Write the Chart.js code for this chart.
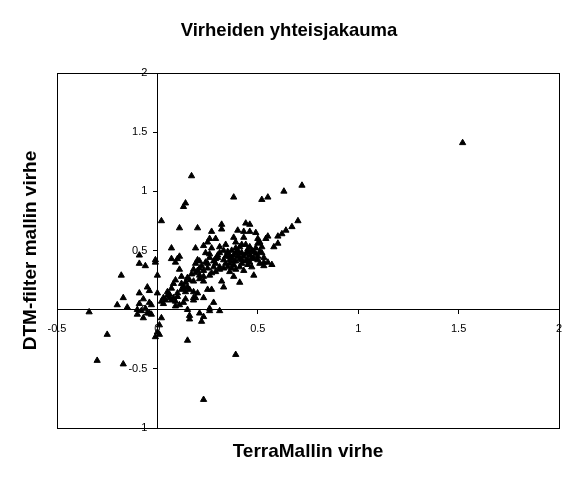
<!DOCTYPE html>
<html>
<head>
<meta charset="utf-8">
<script src="https://cdn.jsdelivr.net/npm/chart.js@4"></script>
<style>
  html, body { margin: 0; padding: 0; background: #fff; }
  #wrap { width: 582px; height: 482px; position: relative; }
</style>
</head>
<body>
<div id="wrap"><canvas id="c" width="582" height="482"></canvas></div>
<script>
const chartTitle = 'Virheiden yhteisjakauma';
const xTitle = 'TerraMallin virhe';
const yTitle = 'DTM-filter mallin virhe';

const xTickValues = [-0.5, 0, 0.5, 1, 1.5, 2];
const xTickLabels = ['-0.5', '0', '0.5', '1', '1.5', '2'];
const yTickValues = [-1, -0.5, 0, 0.5, 1, 1.5, 2];
const yTickLabels = ['-1', '-0.5', '0', '0.5', '1', '1.5', '2'];

const terraErrors = [
  1.52, 0.17, 0.72, 0.63, 0.38, 0.55, 0.52, 0.14, 0.13, 0.70,
  0.67, 0.64, 0.62, 0.60, 0.60, 0.58, 0.02, 0.11, 0.20, 0.44,
  0.46, 0.32, 0.32, 0.27, 0.40, 0.43, 0.46, 0.49, 0.29, 0.26,
  0.38, 0.43, 0.50, 0.54, 0.55, 0.34, 0.23, 0.25, 0.31, 0.07,
  0.19, 0.44, 0.46, 0.50, 0.51, 0.52, 0.39, 0.37, -0.09, -0.01,
  -0.01, -0.09, -0.06, 0.07, 0.09, 0.10, 0.11, 0.11, -0.18, 0.00,
  0.20, 0.21, 0.19, 0.18, 0.19, 0.24, 0.26, 0.24, 0.25, 0.28,
  0.29, 0.30, 0.31, 0.33, 0.34, 0.35, 0.36, 0.35, 0.33, 0.31,
  0.29, 0.27, 0.26, 0.23, 0.21, 0.21, 0.23, 0.18, 0.16, 0.14,
  0.12, 0.13, 0.09, 0.08, 0.07, 0.05, 0.05, 0.03, 0.04, 0.06,
  0.07, 0.08, 0.09, 0.10, 0.12, 0.13, 0.14, 0.15, 0.16, 0.18,
  0.18, 0.18, 0.19, 0.23, 0.25, 0.27, 0.28, 0.13, 0.11, 0.09,
  0.15, 0.26, 0.26, 0.31, 0.21, 0.23, 0.16, 0.16, 0.22, 0.15,
  0.39, 0.23, 0.02, 0.01, 0.00, 0.01, -0.01, -0.25, -0.30, -0.17,
  -0.34, -0.20, -0.17, -0.15, -0.09, -0.05, -0.04, -0.07, -0.04, -0.03,
  -0.09, -0.10, -0.08, -0.10, -0.06, -0.05, -0.04, -0.07, -0.03, 0.00,
  0.03, 0.02, 0.36, 0.38, 0.39, 0.40, 0.41, 0.41, 0.42, 0.43,
  0.45, 0.45, 0.46, 0.48, 0.48, 0.49, 0.50, 0.51, 0.53, 0.53,
  0.57, 0.52, 0.47, 0.45, 0.43, 0.41, 0.38, 0.36, 0.37, 0.38,
  0.39, 0.34, 0.36, 0.33, 0.32, 0.48, 0.33, 0.27, 0.39, 0.41,
  0.42, 0.45, 0.47, 0.49, 0.51, 0.44, 0.42, 0.41, 0.39, 0.31,
  0.29, 0.28, 0.25, 0.23, 0.21, 0.20, 0.37, 0.40, 0.44, 0.47,
  0.35, 0.42, 0.50, 0.38, 0.30, 0.26, 0.22, 0.17, 0.15, 0.12,
  0.06, 0.10, 0.14, 0.20, 0.46, 0.53, 0.55
];
const dtmErrors = [
  1.41, 1.13, 1.05, 1.00, 0.95, 0.95, 0.93, 0.90, 0.87, 0.75,
  0.70, 0.67, 0.64, 0.62, 0.56, 0.53, 0.75, 0.69, 0.69, 0.73,
  0.72, 0.72, 0.68, 0.66, 0.67, 0.66, 0.66, 0.65, 0.60, 0.60,
  0.61, 0.61, 0.60, 0.60, 0.62, 0.55, 0.54, 0.57, 0.53, 0.52,
  0.52, 0.55, 0.53, 0.56, 0.57, 0.53, 0.52, 0.50, 0.46, 0.42,
  0.40, 0.39, 0.37, 0.43, 0.40, 0.43, 0.45, 0.34, 0.29, 0.29,
  0.42, 0.41, 0.39, 0.34, 0.31, 0.48, 0.47, 0.40, 0.39, 0.41,
  0.43, 0.46, 0.48, 0.42, 0.45, 0.49, 0.39, 0.36, 0.35, 0.34,
  0.32, 0.31, 0.29, 0.28, 0.29, 0.26, 0.24, 0.24, 0.25, 0.23,
  0.22, 0.20, 0.25, 0.22, 0.18, 0.15, 0.12, 0.10, 0.08, 0.10,
  0.08, 0.10, 0.07, 0.14, 0.17, 0.18, 0.15, 0.19, 0.17, 0.15,
  0.10, 0.08, 0.10, 0.10, 0.17, 0.17, 0.06, 0.06, 0.04, 0.03,
  0.00, 0.01, -0.01, -0.01, -0.03, -0.06, -0.05, -0.08, -0.10, -0.26,
  -0.38, -0.76, -0.07, -0.13, -0.19, -0.21, -0.23, -0.21, -0.43, -0.46,
  -0.02, 0.04, 0.10, 0.02, 0.14, 0.19, 0.16, 0.09, 0.06, 0.04,
  0.05, 0.00, -0.01, -0.04, 0.01, -0.03, -0.03, -0.07, -0.04, 0.14,
  0.05, 0.07, 0.45, 0.46, 0.48, 0.45, 0.47, 0.43, 0.48, 0.45,
  0.49, 0.42, 0.46, 0.43, 0.49, 0.47, 0.42, 0.39, 0.37, 0.40,
  0.38, 0.48, 0.36, 0.38, 0.33, 0.23, 0.28, 0.32, 0.35, 0.38,
  0.41, 0.39, 0.42, 0.19, 0.24, 0.29, 0.50, 0.52, 0.57, 0.53,
  0.55, 0.51, 0.50, 0.52, 0.49, 0.41, 0.39, 0.36, 0.34, 0.36,
  0.39, 0.36, 0.35, 0.33, 0.35, 0.33, 0.44, 0.50, 0.47, 0.44,
  0.47, 0.42, 0.45, 0.41, 0.44, 0.44, 0.37, 0.30, 0.27, 0.28,
  0.13, 0.11, 0.09, 0.14, 0.40, 0.44, 0.40
];

const points = terraErrors.map((x, i) => ({ x: x, y: dtmErrors[i] }));

const FONT = "Arial, 'Liberation Sans', Helvetica, sans-serif";
Chart.defaults.font.family = FONT;
Chart.defaults.color = '#000';

// shift tick labels of a centre-positioned axis away from the axis line
function shiftLabels(scale, dx, dy) {
  if (scale._labelShiftPatched) return;
  const proto = Object.getPrototypeOf(scale);
  scale._computeLabelItems = function (ca) {
    const items = proto._computeLabelItems.call(this, ca);
    items.forEach(it => {
      it.options.translation[0] += dx;
      it.options.translation[1] += dy;
    });
    return items;
  };
  scale._labelShiftPatched = true;
}

const plotFrame = {
  id: 'plotFrame',
  afterDraw(chart) {
    const a = chart.chartArea;
    const ctx = chart.ctx;
    ctx.save();
    ctx.strokeStyle = '#000';
    ctx.lineWidth = 1;
    ctx.strokeRect(Math.round(a.left) + 0.5, Math.round(a.top) + 0.5,
                   Math.round(a.right - a.left), Math.round(a.bottom - a.top));
    ctx.restore();
  }
};

new Chart(document.getElementById('c'), {
  type: 'scatter',
  data: {
    datasets: [{
      label: 'Virheet',
      data: points,
      pointStyle: 'triangle',
      pointRadius: 3.6,
      pointHoverRadius: 3.6,
      backgroundColor: '#000',
      borderColor: '#000',
      borderWidth: 1
    }]
  },
  options: {
    responsive: false,
    animation: false,
    events: [],
    layout: { padding: { left: 19, right: 23, top: 0, bottom: 19 } },
    plugins: {
      legend: { display: false },
      tooltip: { enabled: false },
      title: {
        display: true,
        text: chartTitle,
        color: '#000',
        font: { family: FONT, size: 18.5, weight: 'bold', lineHeight: 1.2 },
        padding: { top: 20, bottom: 30.8 }
      }
    },
    scales: {
      x: {
        type: 'linear',
        position: { y: 0 },
        min: -0.5, max: 2,
        afterBuildTicks: s => { s.ticks = xTickValues.map(v => ({ value: v })); },
        afterFit: s => { s.height = 0; shiftLabels(s, 0, 3); },
        ticks: {
          autoSkip: false, maxRotation: 0, padding: 6,
          font: { size: 11, family: FONT },
          color: '#000',
          callback: v => xTickLabels[xTickValues.indexOf(v)]
        },
        grid: { display: true, drawOnChartArea: false, drawTicks: true, tickLength: 4, color: '#000' },
        border: { display: true, color: '#000', width: 1 }
      },
      y: {
        type: 'linear',
        position: { x: 0 },
        min: -1, max: 2,
        afterBuildTicks: s => { s.ticks = yTickValues.map(v => ({ value: v })); },
        afterFit: s => { s.width = 0; shiftLabels(s, -10, 0); },
        ticks: {
          autoSkip: false, padding: 6,
          font: { size: 11, family: FONT },
          color: '#000',
          callback: v => yTickLabels[yTickValues.indexOf(v)]
        },
        grid: { display: true, drawOnChartArea: false, drawTicks: true, tickLength: 4, color: '#000' },
        border: { display: true, color: '#000', width: 1 }
      },
      xTitleAxis: {
        type: 'linear',
        axis: 'x',
        position: 'bottom',
        display: true,
        afterFit: s => { s.height = 463 - 428; },
        ticks: { display: false },
        grid: { display: false, drawTicks: false },
        border: { display: false },
        title: {
          display: true, text: xTitle, color: '#000',
          font: { family: FONT, size: 19, weight: 'bold', lineHeight: 1.2 },
          padding: { top: 0, bottom: 0 }
        }
      },
      yTitleAxis: {
        type: 'linear',
        axis: 'y',
        position: 'left',
        display: true,
        afterFit: s => { s.width = 57 - 19; },
        ticks: { display: false },
        grid: { display: false, drawTicks: false },
        border: { display: false },
        title: {
          display: true, text: yTitle, color: '#000',
          font: { family: FONT, size: 19, weight: 'bold', lineHeight: 1.2 },
          padding: { top: 0, bottom: 0 }
        }
      }
    }
  },
  plugins: [plotFrame]
});
</script>
</body>
</html>
